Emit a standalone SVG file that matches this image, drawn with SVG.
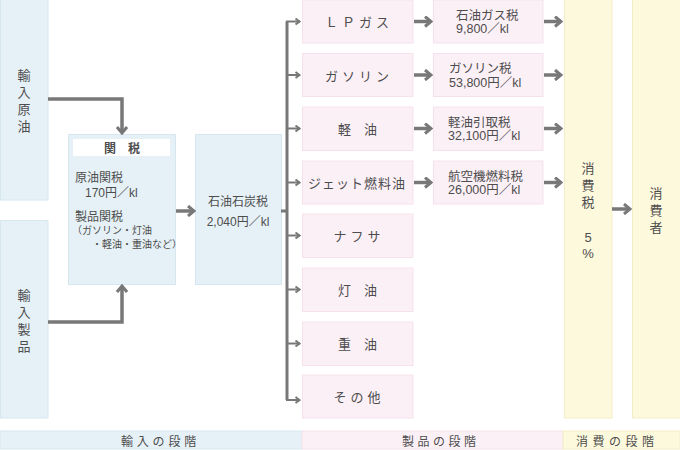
<svg xmlns="http://www.w3.org/2000/svg" width="680" height="450" viewBox="0 0 680 450">
<style>
text{font-family:"Liberation Sans","Noto Sans CJK JP",sans-serif;fill:#4d4d4d;font-size:13px}
.b{fill:#e6f1f7;stroke:#d6e7f0;stroke-width:1}
.p{fill:#fcf0f7;stroke:#f5e1ec;stroke-width:1}
.y{fill:#fdf9dd;stroke:#f3edc6;stroke-width:1}
.m{text-anchor:middle}
.s{font-size:12px}
.t{font-size:12.5px}
.xs{font-size:10px}
.thick{stroke:#787878;stroke-width:3.5;fill:none}
.thin{stroke:#787878;stroke-width:2;fill:none}
</style>
<defs>
<marker id="ah" viewBox="0 0 10 12" refX="8" refY="6" markerWidth="10" markerHeight="12" markerUnits="userSpaceOnUse" orient="auto">
<path d="M2,1 L8,6 L2,11" fill="none" stroke="#787878" stroke-width="3"/>
</marker>
<marker id="as" viewBox="0 0 8 8" refX="7" refY="4" markerWidth="8" markerHeight="8" markerUnits="userSpaceOnUse" orient="auto">
<path d="M2.5,1 L6.5,4 L2.5,7" fill="none" stroke="#787878" stroke-width="2"/>
</marker>
</defs>

<g id="import-crude">
<rect class="b" x="0.5" y="-1" width="47.5" height="201"/>
<text class="m" x="24"><tspan x="24" y="80">輸</tspan><tspan x="24" y="97">入</tspan><tspan x="24" y="114">原</tspan><tspan x="24" y="131">油</tspan></text>
</g>
<g id="import-product">
<rect class="b" x="0.5" y="220.5" width="47.5" height="197.5"/>
<text class="m" x="24"><tspan x="24" y="300">輸</tspan><tspan x="24" y="317">入</tspan><tspan x="24" y="334">製</tspan><tspan x="24" y="351">品</tspan></text>
</g>
<g id="tariff">
<rect class="b" x="68.5" y="134.5" width="107" height="150"/>
<rect x="73" y="139" width="97" height="17" fill="#ffffff"/>
<text class="m s" x="122" y="152.5" font-weight="bold">関　税</text>
<text class="s" x="75" y="181.5">原油関税</text>
<text class="s" x="85" y="196.5">170円／kl</text>
<text class="s" x="75" y="221">製品関税</text>
<text class="xs" x="72" y="234">（ガソリン・灯油</text>
<text class="xs" x="92" y="248">・軽油・重油など）</text>
</g>
<g id="coal-tax">
<rect class="b" x="195.5" y="134.5" width="86" height="150"/>
<text class="m s" x="238" y="206">石油石炭税</text>
<text class="m s" x="238" y="225.5">2,040円／kl</text>
</g>

<g id="lpg"><rect class="p" x="302.5" y="0" width="110.5" height="43"/><text class="m" x="359" y="27" letter-spacing="4">ＬＰガス</text></g>
<g id="gasoline"><rect class="p" x="302.5" y="53.5" width="110.5" height="43"/><text class="m" x="359" y="80.5" letter-spacing="4">ガソリン</text></g>
<g id="light-oil"><rect class="p" x="302.5" y="107" width="110.5" height="43.5"/><text class="m" x="357.5" y="134">軽　油</text></g>
<g id="jet-fuel"><rect class="p" x="302.5" y="161" width="110.5" height="43"/><text class="m" x="357" y="188" letter-spacing="1">ジェット燃料油</text></g>
<g id="naphtha"><rect class="p" x="302.5" y="214" width="110.5" height="43.5"/><text class="m" x="359" y="241" letter-spacing="4">ナフサ</text></g>
<g id="kerosene"><rect class="p" x="302.5" y="268" width="110.5" height="43.5"/><text class="m" x="357.5" y="295">灯　油</text></g>
<g id="heavy-oil"><rect class="p" x="302.5" y="322" width="110.5" height="43.5"/><text class="m" x="357.5" y="349">重　油</text></g>
<g id="others"><rect class="p" x="302.5" y="375" width="110.5" height="43"/><text class="m" x="359" y="402" letter-spacing="4">その他</text></g>

<g id="lpg-tax"><rect class="p" x="433.5" y="0" width="109.5" height="43"/><text class="t" x="456" y="19.5">石油ガス税</text><text class="t" x="456" y="33">9,800／kl</text></g>
<g id="gasoline-tax"><rect class="p" x="433.5" y="53.5" width="109.5" height="43"/><text class="t" x="449" y="73">ガソリン税</text><text class="t" x="449" y="86.5">53,800円／kl</text></g>
<g id="light-oil-tax"><rect class="p" x="433.5" y="107" width="109.5" height="43.5"/><text class="t" x="448" y="126.5">軽油引取税</text><text class="t" x="448" y="140">32,100円／kl</text></g>
<g id="jet-fuel-tax"><rect class="p" x="433.5" y="161" width="109.5" height="43"/><text class="t" x="448" y="180.5">航空機燃料税</text><text class="t" x="448" y="194">26,000円／kl</text></g>

<g id="consumption-tax">
<rect class="y" x="564.5" y="-1" width="47.5" height="419"/>
<text class="m" x="588"><tspan x="588" y="173">消</tspan><tspan x="588" y="190">費</tspan><tspan x="588" y="207">税</tspan><tspan x="588" y="241.5">5</tspan><tspan x="588" y="258">%</tspan></text>
</g>
<g id="consumer">
<rect class="y" x="632.5" y="-1" width="48" height="419"/>
<text class="m" x="656"><tspan x="656" y="198">消</tspan><tspan x="656" y="215">費</tspan><tspan x="656" y="232">者</tspan></text>
</g>

<g id="stages">
<rect x="0" y="431" width="302" height="18" fill="#e6f1f7" stroke="#d6e7f0"/>
<rect x="302" y="431" width="261" height="18" fill="#fcf0f7" stroke="#f5e1ec"/>
<rect x="563" y="431" width="117" height="18" fill="#fdf9dd" stroke="#f3edc6"/>
<text class="s" x="121" y="445.5" letter-spacing="3.8">輸入の段階</text>
<text class="s" x="402" y="445.5" letter-spacing="3.5">製品の段階</text>
<text class="s" x="576" y="445.5" letter-spacing="4.5">消費の段階</text>
</g>

<g id="connectors">
<path class="thick" d="M48,99 H122 V133" marker-end="url(#ah)"/>
<path class="thick" d="M48,322 H122 V286" marker-end="url(#ah)"/>
<path class="thick" d="M176,211 H194" marker-end="url(#ah)"/>
<path d="M281,211 H287" stroke="#787878" stroke-width="3" fill="none"/>
<path d="M287,21.5 V400" stroke="#787878" stroke-width="3" fill="none"/>
<path class="thin" d="M286,21.5 H300" marker-end="url(#as)"/>
<path class="thin" d="M286,75 H300" marker-end="url(#as)"/>
<path class="thin" d="M286,128.5 H300" marker-end="url(#as)"/>
<path class="thin" d="M286,182.5 H300" marker-end="url(#as)"/>
<path class="thin" d="M286,235.5 H300" marker-end="url(#as)"/>
<path class="thin" d="M286,289.5 H300" marker-end="url(#as)"/>
<path class="thin" d="M286,343.5 H300" marker-end="url(#as)"/>
<path class="thin" d="M286,400 H300" marker-end="url(#as)"/>
<path class="thick" d="M414,21.5 H431" marker-end="url(#ah)"/>
<path class="thick" d="M414,75 H431" marker-end="url(#ah)"/>
<path class="thick" d="M414,128.5 H431" marker-end="url(#ah)"/>
<path class="thick" d="M414,182.5 H431" marker-end="url(#ah)"/>
<path class="thick" d="M544,21.5 H561" marker-end="url(#ah)"/>
<path class="thick" d="M544,75 H561" marker-end="url(#ah)"/>
<path class="thick" d="M544,128.5 H561" marker-end="url(#ah)"/>
<path class="thick" d="M544,182.5 H561" marker-end="url(#ah)"/>
<path class="thick" d="M612,209 H630" marker-end="url(#ah)"/>
</g>
</svg>
